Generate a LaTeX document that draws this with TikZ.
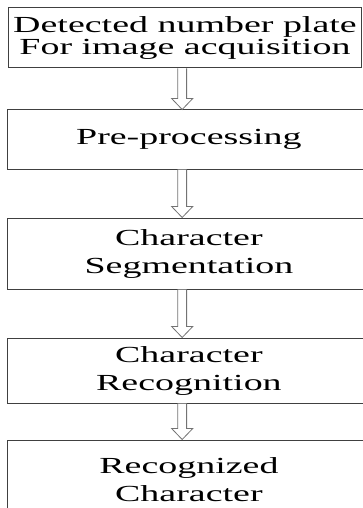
\documentclass[tikz,border=0pt]{standalone}
\usepackage{fontspec}
\newfontfamily\stagefont{Liberation Serif}
\usetikzlibrary{calc}

\tikzset{
  stage/.style={draw=black!75, line width=1pt, rectangle, inner sep=0pt,
    align=center, minimum width=219.4pt, font=\stagefont\fontsize{23}{28}\selectfont},
  flow/.style={draw=black!55, line width=0.8pt, fill=white},
}

% hollow block arrow from the bottom of #1 to the top of #2
\newcommand{\hollowdown}[2]{%
  \draw[flow] ($(axis |- #1.south)+(-2.7,0)$) -- ($(axis |- #2.north)+(-2.7,11)$)
    -- ($(axis |- #2.north)+(-6.4,11)$) -- (axis |- #2.north)
    -- ($(axis |- #2.north)+(6.4,11)$) -- ($(axis |- #2.north)+(2.7,11)$)
    -- ($(axis |- #1.south)+(2.7,0)$);}

\begin{document}
\begin{tikzpicture}[x=1pt, y=1pt, xscale=1.65, transform shape]
    \useasboundingbox (0,0) rectangle (220,-508);

    \node[stage, minimum width=214.5pt, minimum height=60pt,
          font=\stagefont\fontsize{23}{19}\selectfont] (detect) at (112.1,-38)
          {Detected number plate\\For image acquisition};
    \node[stage, minimum height=59pt] (preproc) at (114.5,-139.5) {Pre-processing};
    \node[stage, minimum height=71pt] (segment) at (114.5,-253.5) {Character\\Segmentation};
    \node[stage, minimum height=65pt] (recog) at (114.5,-370.5) {Character\\Recognition};
    \node[stage, minimum height=80pt] (result) at (114.5,-480) {Recognized\\Character};

    \coordinate (axis) at (110.4,0);

    \hollowdown{detect}{preproc}
    \hollowdown{preproc}{segment}
    \hollowdown{segment}{recog}
    \hollowdown{recog}{result}
\end{tikzpicture}
\end{document}
